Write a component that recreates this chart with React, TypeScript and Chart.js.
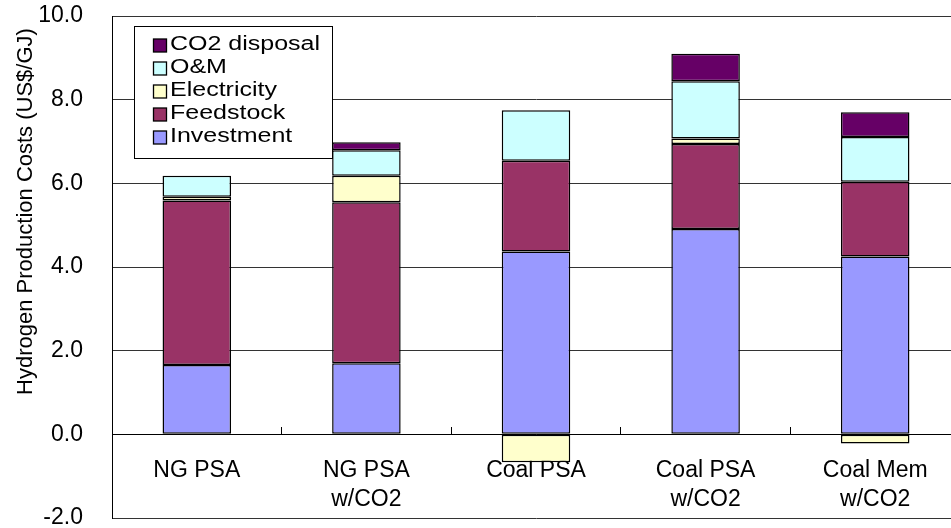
import React, { useEffect, useRef } from 'react';
import { Chart, registerables } from 'chart.js';

Chart.register(...registerables);

const FONT = "'Liberation Sans', Arial, sans-serif";

const categories: string[][] = [
  ['NG PSA'],
  ['NG PSA', 'w/CO2'],
  ['Coal PSA'],
  ['Coal PSA', 'w/CO2'],
  ['Coal Mem', 'w/CO2'],
];
const investment = [1.66, 1.70, 4.37, 4.91, 4.25];
const feedstock = [3.93, 3.85, 2.17, 2.03, 1.79];
const electricity = [0.09, 0.63, -0.67, 0.13, -0.22];
const oAndM = [0.50, 0.61, 1.21, 1.37, 1.07];
const co2Disposal = [null, 0.19, null, 0.66, 0.59];
const yTicks = [-2, 0, 2, 4, 6, 8, 10];
const yTitle = 'Hydrogen Production Costs (US$/GJ)';

const seriesNames = ['Investment', 'Feedstock', 'Electricity', 'O&M', 'CO2 disposal'];
const seriesColors = ['#9999FF', '#993366', '#FFFFCC', '#CCFFFF', '#660066'];

const boxLegend = {
  id: 'boxLegend',
  afterDraw(chart: any) {
    const ctx = chart.ctx;
    ctx.save();
    ctx.fillStyle = '#ffffff';
    ctx.fillRect(134.5, 26.5, 198, 132);
    ctx.strokeStyle = '#000000';
    ctx.lineWidth = 1;
    ctx.strokeRect(134.5, 26.5, 198, 132);
    const ds = chart.data.datasets.slice().reverse();
    ds.forEach((d: any, i: number) => {
      const base = 49.5 + i * 23;
      ctx.fillStyle = d.backgroundColor;
      ctx.fillRect(153.5, base - 10.5, 13, 13);
      ctx.strokeStyle = '#000000';
      ctx.lineWidth = 1.3;
      ctx.strokeRect(153.5, base - 10.5, 13, 13);
      ctx.save();
      ctx.translate(170, base);
      ctx.scale(1.25, 1);
      ctx.fillStyle = '#000000';
      ctx.font = `20px ${FONT}`;
      ctx.textAlign = 'left';
      ctx.textBaseline = 'alphabetic';
      ctx.fillText(d.label, 0, 0);
      ctx.restore();
    });
    // y axis title
    ctx.save();
    ctx.translate(31.5, 211.5);
    ctx.rotate(-Math.PI / 2);
    ctx.fillStyle = '#000000';
    ctx.font = `22px ${FONT}`;
    ctx.textAlign = 'center';
    ctx.textBaseline = 'alphabetic';
    ctx.fillText(yTitle, 0, 0);
    ctx.restore();
    ctx.restore();
  },
};

export default function App() {
  const ref = useRef<HTMLCanvasElement | null>(null);
  useEffect(() => {
    if (!ref.current) return;
    const seriesData = [investment, feedstock, electricity, oAndM, co2Disposal];
    const chart = new Chart(ref.current, {
      type: 'bar',
      data: {
        labels: categories,
        datasets: seriesNames.map((name, i) => ({
          label: name,
          data: seriesData[i] as any,
          backgroundColor: seriesColors[i],
          borderColor: '#000000',
          borderWidth: 1.5,
          borderSkipped: false,
          barPercentage: 1,
          categoryPercentage: 0.404,
        })),
      },
      options: {
        animation: false,
        responsive: false,
        devicePixelRatio: 1,
        layout: { padding: { top: 16, bottom: 22, left: 0, right: 0 } },
        plugins: {
          legend: { display: false },
          tooltip: { enabled: false },
        },
        scales: {
          x: {
            stacked: true,
            position: { y: 0 } as any,
            ticks: {
              font: { size: 23, family: FONT, lineHeight: 1.25 },
              color: '#000000',
              padding: 30,
              maxRotation: 0,
              autoSkip: false,
            },
            grid: {
              drawOnChartArea: false,
              drawTicks: true,
              tickLength: -8,
              color: '#000000',
              offset: true,
            },
            border: { display: true, color: '#000000', width: 1 },
            afterFit: (s: any) => {
              s.height = 0;
              s.paddingLeft = 0;
              s.paddingRight = 0;
            },
          },
          y: {
            stacked: true,
            min: -2,
            max: 10,
            afterBuildTicks: (s: any) => {
              s.ticks = yTicks.map((v) => ({ value: v }));
            },
            ticks: {
              callback: (v: any) => Number(v).toFixed(1),
              font: { size: 23, family: FONT },
              color: '#000000',
              padding: 29,
            },
            grid: { color: '#333333', lineWidth: 1, drawTicks: false },
            border: { display: true, color: '#000000', width: 1 },
            afterFit: (s: any) => {
              s.width = 112;
              s.paddingTop = 0;
              s.paddingBottom = 0;
            },
          },
        },
      },
      plugins: [boxLegend],
    });
    return () => chart.destroy();
  }, []);
  return (
    <div
      style={{
        position: 'fixed',
        left: 0,
        top: 0,
        width: 951,
        height: 528,
        overflow: 'hidden',
        background: '#ffffff',
      }}
    >
      <canvas ref={ref} width={960} height={540} style={{ width: 960, height: 540, display: 'block' }} />
    </div>
  );
}
